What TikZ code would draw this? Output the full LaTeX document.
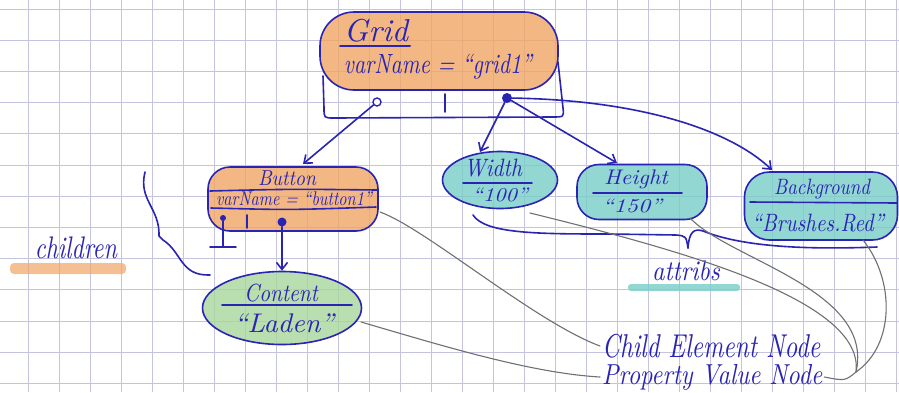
\documentclass[tikz,border=0pt]{standalone}
\usepackage{fontspec}
\usepackage{graphicx}
\usetikzlibrary{arrows.meta,shapes.geometric}
\definecolor{ink}{RGB}{42,36,178}
\definecolor{pencil}{RGB}{112,112,112}
\definecolor{gridln}{RGB}{196,196,224}
\definecolor{orfill}{RGB}{240,165,100}
\definecolor{tealfill}{RGB}{120,205,200}
\definecolor{grfill}{RGB}{168,214,156}
\newcommand{\hw}[3]{\resizebox*{#1}{#2}{\itshape #3}}
\tikzset{
  pen/.style={draw=ink, line width=1.6pt, line cap=round, line join=round},
  pencilln/.style={draw=pencil, line width=1.1pt, line cap=round},
  blobr/.style={pen, rectangle, inner sep=0pt, fill opacity=0.8, text opacity=1},
  blobe/.style={pen, ellipse, inner sep=0pt, fill opacity=0.8, text opacity=1},
  txt/.style={text=ink, inner sep=0pt},
  dotf/.style={circle, fill=ink, inner sep=0pt},
  doto/.style={circle, draw=ink, line width=1.4pt, fill=white, inner sep=0pt},
  arr/.style={pen, -{Straight Barb[length=7pt,width=11pt,line width=1.6pt]}},
}
\begin{document}
\begin{tikzpicture}[x=1pt,y=-1pt]
\useasboundingbox (0,0) rectangle (899,392);
\fill[white] (0,0) rectangle (899,392);
% squared paper
\foreach \k in {0,...,28} {\draw[gridln, line width=0.8pt] ({28+31*\k},0) -- ({28+31*\k},392);}
\foreach \k in {0,...,12} {\draw[gridln, line width=0.8pt] (0,{9+31.2*\k}) -- (899,{9+31.2*\k});}

% highlighter strokes
\fill[orfill, opacity=0.7, rounded corners=4pt] (10,263) rectangle (126,274);
\fill[tealfill, opacity=0.8, rounded corners=3pt] (628,284) rectangle (740,291);

% ---------- nodes ----------
\node[blobr, fill=orfill, minimum width=238, minimum height=78, rounded corners=34] (grid) at (439,51) {};
\node[blobr, fill=orfill, minimum width=170, minimum height=64, rounded corners=22] (button) at (293,199) {};
\node[blobe, fill=grfill, minimum width=159, minimum height=73] (content) at (282,308) {};
\node[blobe, fill=tealfill, minimum width=115, minimum height=57] (width) at (500,180) {};
\node[blobr, fill=tealfill, minimum width=130, minimum height=55, rounded corners=22] (height) at (642,192) {};
\node[blobr, fill=tealfill, minimum width=153, minimum height=68, rounded corners=25] (backgr) at (821,206) {};

% grid outer box and its ports
\draw[pen] (558,62) -- (563,108) .. controls (564,117) .. (552,117) -- (334,118) .. controls (324,118) .. (324,108) -- (323,76);
\node[doto, minimum size=8] (gOpen) at (377,102) {};
\node[dotf, minimum size=10] (gDot) at (507,98) {};
\draw[pen] (445,94) -- (445,112);

% texts in Grid
\node[txt] (tGrid) at (376,31) {\hw{64pt}{23pt}{Grid}};
\draw[pen, line width=2pt] (340,46) -- (410,46);
\node[txt] (tGridVar) at (438,67) {\hw{188pt}{25pt}{varName = “grid1”}};

% Button bands and texts
\draw[pen] (210,191) .. controls (290,189) .. (377,190);
\draw[pen] (211,208) .. controls (290,210) .. (376,207);
\node[txt] (tButton) at (287,178) {\hw{58pt}{15pt}{Button}};
\node[txt] (tButtonVar) at (294,199) {\hw{156pt}{14pt}{varName = “button1”}};

% Button ports
\node[dotf, minimum size=6] (bDot1) at (223,218) {};
\coordinate (bNull) at (223,247);
\draw[pen] (bDot1) -- (bNull);
\draw[pen] (210,247) -- (236,247);
\draw[pen] (247,215) -- (247,228);
\node[dotf, minimum size=9] (bDot2) at (282,222) {};

% Content
\node[txt] (tContent) at (281,293) {\hw{74pt}{18pt}{Content}};
\draw[pen] (222,305) -- (352,305);
\node[txt] (tLaden) at (284,323) {\hw{100pt}{19pt}{“Laden”}};

% Width
\node[txt] (tWidth) at (493,168) {\hw{58pt}{18pt}{Width}};
\draw[pen] (463,183) -- (532,183);
\node[txt] (t100) at (500,195) {\hw{56pt}{14pt}{“100”}};

% Height
\node[txt] (tHeight) at (636,179) {\hw{64pt}{19pt}{Height}};
\draw[pen] (593,193) -- (682,193);
\node[txt] (t150) at (632,206) {\hw{60pt}{14pt}{“150”}};

% Background
\node[txt] (tBack) at (822,189) {\hw{96pt}{20pt}{Background}};
\draw[pen] (750,202) -- (897,203);
\node[txt] (tBrush) at (818,223) {\hw{132pt}{18pt}{“Brushes.Red”}};

% labels
\node[txt] (lChildren) at (76,248) {\hw{82pt}{22pt}{children}};
\node[txt] (lAttribs) at (686,271) {\hw{68pt}{20pt}{attribs}};
\node[txt, anchor=west] (cen) at (602,346) {\hw{218pt}{24pt}{Child Element Node}};
\node[txt, anchor=west] (pvn) at (602,377) {\hw{220pt}{26pt}{Property Value Node}};

% ---------- arrows ----------
\coordinate (btnIn) at (303,164);
\coordinate (widthIn) at (480,152);
\coordinate (heightIn) at (617,163);
\coordinate (backIn) at (772,170);
\draw[arr] (gOpen) -- (btnIn);
\draw[arr] (gDot) -- (widthIn);
\draw[arr] (gDot) -- (heightIn);
\draw[arr] (gDot) .. controls (640,100) and (730,130) .. (backIn);
\draw[arr] (bDot2) -- (content);

% braces
\draw[pen] (145,172) .. controls (138,200) and (160,208) .. (159,236) -- (163,240) .. controls (182,252) and (180,276) .. (210,275);
\draw[pen] (473,215) .. controls (485,234) and (540,234) .. (610,234) -- (676,235) .. controls (686,236) .. (688,248);
\draw[pen] (688,248) .. controls (689,232) and (694,228) .. (703,231) .. controls (740,246) and (800,250) .. (877,247);

% ---------- pencil leaders ----------
\coordinate (btnR) at (380,212);
\coordinate (contR) at (361,322);
\coordinate (widthR) at (530,213);
\coordinate (heightR) at (690,218);
\coordinate (backR) at (863,240);
\coordinate (conv) at (856,372);
\draw[pencilln] (btnR) .. controls (425,228) and (535,322) .. ([xshift=-2pt]cen.west);
\draw[pencilln] (contR) .. controls (440,345) and (530,373) .. ([xshift=-2pt]pvn.west);
\draw[pencilln] (widthR) .. controls (680,250) and (865,300) .. (conv);
\draw[pencilln] (heightR) .. controls (730,260) and (875,290) .. (conv);
\draw[pencilln] (backR) .. controls (895,280) and (895,345) .. (conv);
\draw[pencilln] (conv) .. controls (845,381) .. ([xshift=2pt]pvn.east);
\end{tikzpicture}
\end{document}
